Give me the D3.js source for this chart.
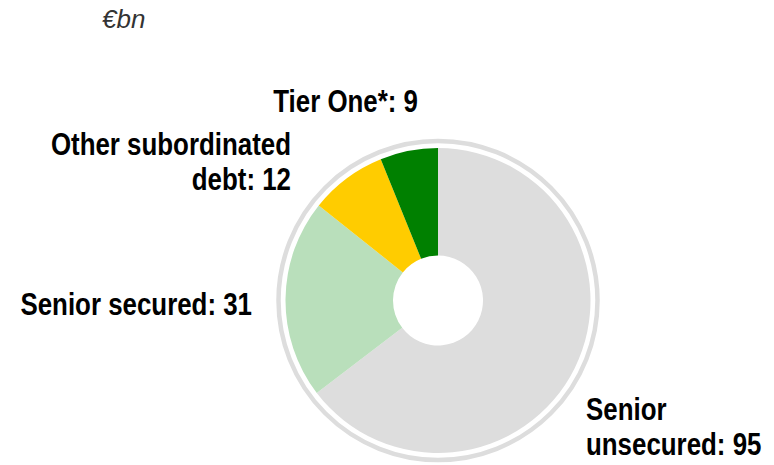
<!DOCTYPE html>
<html>
<head>
<meta charset="utf-8">
<script src="https://cdn.jsdelivr.net/npm/d3@7/dist/d3.min.js"></script>
<style>
  body { margin: 0; background: #fff; }
  .lbl { font-family: "Liberation Sans", Arial, sans-serif; font-weight: bold; font-size: 31px; fill: #000; }
  .unit { font-family: "Liberation Sans", Arial, sans-serif; font-style: italic; font-size: 26px; fill: #333; }
</style>
</head>
<body>
<svg id="chart" width="774" height="465"></svg>
<script>
// debt stack, €bn
const categories = ['Senior unsecured', 'Senior secured', 'Other subordinated debt', 'Tier One*'];
const values = [95, 31, 12, 9];
const colours = ['#dddddd', '#b9dfbb', '#ffcc00', '#008000'];
// label lines as they wrap in the picture
const labelLines = [
  ['Senior', 'unsecured: 95'],
  ['Senior secured: 31'],
  ['Other subordinated', 'debt: 12'],
  ['Tier One*: 9']
];

const svg = d3.select('#chart');
const cx = 438, cy = 300.5;
const outerR = 152.5, innerR = 45;

svg.append('text')
  .attr('class', 'unit')
  .attr('x', 102)
  .attr('y', 28)
  .text('€bn');

const g = svg.append('g').attr('transform', `translate(${cx},${cy})`);

// thin outer ring
g.append('circle')
  .attr('r', 159.5)
  .attr('fill', 'none')
  .attr('stroke', '#dddddd')
  .attr('stroke-width', 4.5);

const pie = d3.pie().sort(null).value(d => d);
const arc = d3.arc().innerRadius(innerR).outerRadius(outerR);

g.selectAll('path.slice')
  .data(pie(values))
  .join('path')
  .attr('class', 'slice')
  .attr('d', arc)
  .attr('fill', (d, i) => colours[i]);

// label placement (anchor point, alignment)
const labelPos = [
  { x: 586, y: 420, anchor: 'start' },
  { x: 252, y: 315, anchor: 'end' },
  { x: 291, y: 155, anchor: 'end' },
  { x: 418, y: 112, anchor: 'end' }
];
const lineGap = 35;
const narrow = 0.835; // no narrow font installed, squeeze the bold one

categories.forEach((c, i) => {
  const p = labelPos[i];
  const t = svg.append('text')
    .attr('class', 'lbl')
    .attr('text-anchor', p.anchor)
    .attr('transform', `translate(${p.x},${p.y}) scale(${narrow},1)`);
  labelLines[i].forEach((line, j) => {
    t.append('tspan')
      .attr('x', 0)
      .attr('dy', j === 0 ? 0 : lineGap)
      .text(line);
  });
});
</script>
</body>
</html>
